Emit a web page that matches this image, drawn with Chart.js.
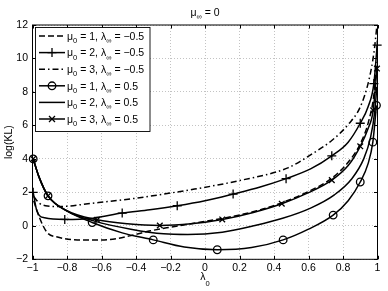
<!DOCTYPE html>
<html>
<head>
<meta charset="utf-8">
<script src="https://cdn.jsdelivr.net/npm/chart.js@4.4.1/dist/chart.umd.min.js"></script>
<style>
  html, body { margin: 0; padding: 0; background: #fff; }
  #wrap { width: 388px; height: 291px; }
</style>
</head>
<body>
<div id="wrap"><canvas id="myChart" width="388" height="291"></canvas></div>
<script>
const FONT = '"Liberation Sans", Arial, sans-serif';

const xTicks = [-1, -0.8, -0.6, -0.4, -0.2, 0, 0.2, 0.4, 0.6, 0.8, 1];
const xTickLabels = ["−1", "−0.8", "−0.6", "−0.4", "−0.2", "0", "0.2", "0.4", "0.6", "0.8", "1"];
const yTicks = [-2, 0, 2, 4, 6, 8, 10, 12];
const yTickLabels = ["−2", "0", "2", "4", "6", "8", "10", "12"];

const muValues = ["1", "2", "3", "1", "2", "3"];
const lambdaValues = ["−0.5", "−0.5", "−0.5", "0.5", "0.5", "0.5"];

// mu0 = 1, lambda_inf = -0.5 (dashed)
const mu1NegX = [-0.993, -0.96, -0.915, -0.85, -0.74, -0.6, -0.5, -0.413, -0.316, -0.2, -0.05, 0.1, 0.3, 0.45, 0.6, 0.735, 0.83, 0.9, 0.95, 0.98, 0.996];
const mu1NegY = [1.5, 0.5, -0.4, -0.68, -0.84, -0.84, -0.74, -0.54, -0.3, -0.08, 0.18, 0.44, 0.9, 1.4, 2.05, 2.85, 3.8, 4.9, 6.3, 7.9, 9.8];

// mu0 = 2, lambda_inf = -0.5 (plus)
const mu2NegX = [-0.996, -0.975, -0.93, -0.813, -0.65, -0.48, -0.32, -0.161, 0.0, 0.163, 0.32, 0.47, 0.612, 0.735, 0.83, 0.9, 0.945, 0.979, 0.998];
const mu2NegY = [2.0, 0.9, 0.48, 0.38, 0.46, 0.76, 0.96, 1.2, 1.5, 1.9, 2.32, 2.82, 3.4, 4.18, 5.0, 6.13, 7.1, 8.5, 10.8];
const mu2NegMarkX = [-0.996, -0.813, -0.48, -0.161, 0.163, 0.47, 0.735, 0.9, 0.979, 0.998];
const mu2NegMarkY = [2.0, 0.38, 0.76, 1.2, 1.9, 2.82, 4.18, 6.13, 8.5, 10.8];

// mu0 = 3, lambda_inf = -0.5 (dash-dot)
const mu3NegX = [-0.993, -0.96, -0.925, -0.848, -0.654, -0.4, -0.1, 0.194, 0.484, 0.612, 0.735, 0.834, 0.9, 0.95, 0.98, 0.995];
const mu3NegY = [1.75, 1.35, 1.2, 1.15, 1.35, 1.65, 2.13, 2.69, 3.48, 4.24, 5.1, 6.1, 7.1, 8.7, 10.4, 11.8];

// mu0 = 1, lambda_inf = 0.5 (circles)
const mu1PosX = [-0.996, -0.963, -0.91, -0.8, -0.654, -0.48, -0.3, -0.12, 0.071, 0.27, 0.453, 0.6, 0.743, 0.83, 0.9, 0.945, 0.973, 0.994];
const mu1PosY = [4.0, 2.94, 1.79, 0.9, 0.2, -0.42, -0.84, -1.27, -1.43, -1.3, -0.84, -0.2, 0.64, 1.5, 2.62, 3.7, 5.0, 7.2];
const mu1PosMarkX = [-0.996, -0.91, -0.654, -0.3, 0.071, 0.453, 0.743, 0.9, 0.973, 0.994];
const mu1PosMarkY = [4.0, 1.79, 0.2, -0.84, -1.43, -0.84, 0.64, 2.62, 5.0, 7.2];

// mu0 = 2, lambda_inf = 0.5 (solid)
const mu2PosX = [-0.996, -0.963, -0.91, -0.8, -0.64, -0.43, -0.24, -0.1, 0.1, 0.29, 0.45, 0.612, 0.75, 0.85, 0.92, 0.96, 0.985, 0.996];
const mu2PosY = [4.0, 2.94, 1.79, 0.88, 0.28, -0.2, -0.48, -0.52, -0.38, 0.02, 0.45, 1.06, 1.85, 2.8, 4.0, 5.3, 6.9, 8.3];

// mu0 = 3, lambda_inf = 0.5 (x)
const mu3PosX = [-0.996, -0.963, -0.91, -0.8, -0.625, -0.45, -0.262, -0.08, 0.1, 0.28, 0.445, 0.6, 0.735, 0.83, 0.9, 0.945, 0.975, 0.997];
const mu3PosY = [4.0, 2.94, 1.79, 0.9, 0.36, 0.12, 0.02, 0.12, 0.38, 0.8, 1.32, 1.98, 2.73, 3.6, 4.75, 5.8, 6.9, 9.4];
const mu3PosMarkX = [-0.996, -0.91, -0.625, -0.262, 0.1, 0.445, 0.735, 0.9, 0.975, 0.997];
const mu3PosMarkY = [4.0, 1.79, 0.36, 0.02, 0.38, 1.32, 2.73, 4.75, 6.9, 9.4];

const pts = (xs, ys) => xs.map((v, i) => ({ x: v, y: ys[i] }));

const series = [
  { line: pts(mu1NegX, mu1NegY), marks: null, dash: [6, 3], marker: null },
  { line: pts(mu2NegX, mu2NegY), marks: pts(mu2NegMarkX, mu2NegMarkY), dash: [], marker: "cross" },
  { line: pts(mu3NegX, mu3NegY), marks: null, dash: [6, 3, 1.5, 3], marker: null },
  { line: pts(mu1PosX, mu1PosY), marks: pts(mu1PosMarkX, mu1PosMarkY), dash: [], marker: "circle" },
  { line: pts(mu2PosX, mu2PosY), marks: null, dash: [], marker: null },
  { line: pts(mu3PosX, mu3PosY), marks: pts(mu3PosMarkX, mu3PosMarkY), dash: [], marker: "crossRot" },
];

const markerRadius = { cross: 4.5, circle: 3.8, crossRot: 4 };

const datasets = [];
series.forEach(s => {
  datasets.push({
    data: s.line,
    showLine: true,
    borderColor: "#000",
    borderWidth: 1.5,
    borderDash: s.dash,
    pointRadius: 0,
    cubicInterpolationMode: "monotone",
    fill: false,
  });
});
series.forEach(s => {
  if (!s.marks) return;
  datasets.push({
    data: s.marks,
    showLine: false,
    pointStyle: s.marker,
    pointRadius: markerRadius[s.marker],
    pointBorderColor: "#000",
    pointBackgroundColor: "rgba(0,0,0,0)",
    pointBorderWidth: 1.3,
    clip: 8,
  });
});

// draws text with subscripts: parts = [[text, isSub], ...]
function richWidth(ctx, parts, size) {
  let w = 0;
  parts.forEach(([t, sub]) => {
    ctx.font = (sub ? size * 0.72 : size) + "px " + FONT;
    w += ctx.measureText(t).width;
  });
  return w;
}
function drawRich(ctx, parts, x, y, size, subDrop) {
  ctx.textBaseline = "alphabetic";
  ctx.textAlign = "left";
  parts.forEach(([t, sub]) => {
    ctx.font = (sub ? size * 0.72 : size) + "px " + FONT;
    ctx.fillText(t, x, sub ? y + subDrop : y);
    x += ctx.measureText(t).width;
  });
}

function drawMarker(ctx, style, r, x, y) {
  ctx.beginPath();
  if (style === "circle") {
    ctx.arc(x, y, r, 0, Math.PI * 2);
  } else if (style === "cross") {
    ctx.moveTo(x - r, y); ctx.lineTo(x + r, y);
    ctx.moveTo(x, y - r); ctx.lineTo(x, y + r);
  } else if (style === "crossRot") {
    const d = r * 0.75;
    ctx.moveTo(x - d, y - d); ctx.lineTo(x + d, y + d);
    ctx.moveTo(x + d, y - d); ctx.lineTo(x - d, y + d);
  }
  ctx.stroke();
}

const decorations = {
  id: "decorations",
  afterDatasetsDraw(chart) {
    const { ctx, chartArea: a, scales } = chart;
    ctx.save();
    ctx.strokeStyle = "#000";
    ctx.lineWidth = 1;
    ctx.setLineDash([]);
    ctx.strokeRect(a.left, a.top, a.right - a.left, a.bottom - a.top);

    // inward tick marks on all four sides
    ctx.beginPath();
    xTicks.forEach(v => {
      const px = Math.round(scales.x.getPixelForValue(v)) + 0.5;
      ctx.moveTo(px, a.bottom); ctx.lineTo(px, a.bottom - 3.5);
      ctx.moveTo(px, a.top); ctx.lineTo(px, a.top + 3.5);
    });
    yTicks.forEach(v => {
      const py = Math.round(scales.y.getPixelForValue(v)) + 0.5;
      ctx.moveTo(a.left, py); ctx.lineTo(a.left + 3.5, py);
      ctx.moveTo(a.right, py); ctx.lineTo(a.right - 3.5, py);
    });
    ctx.stroke();

    // legend box
    const bx = 35.5, by = 27.5, bw = 114.5, bh = 104;
    ctx.fillStyle = "#fff";
    ctx.fillRect(bx, by, bw, bh);
    ctx.lineWidth = 0.9;
    ctx.strokeRect(bx, by, bw, bh);
    series.forEach((s, i) => {
      const cy = 36 + i * 16.6;
      ctx.lineWidth = 1.5;
      ctx.setLineDash(s.dash);
      ctx.beginPath();
      ctx.moveTo(39, cy); ctx.lineTo(65, cy);
      ctx.stroke();
      ctx.setLineDash([]);
      if (s.marker) {
        ctx.lineWidth = 1.3;
        drawMarker(ctx, s.marker, markerRadius[s.marker], 52, cy);
      }
      ctx.fillStyle = "#000";
      drawRich(ctx, [["μ", 0], ["0", 1], [" = " + muValues[i] + ", λ", 0], ["∞", 1], [" = " + lambdaValues[i], 0]], 67, cy + 3.8, 10.5, 3.2);
    });
    ctx.restore();
  },
  afterDraw(chart) {
    const { ctx, chartArea: a } = chart;
    ctx.save();
    ctx.fillStyle = "#000";
    const cx = (a.left + a.right) / 2;

    const title = [["μ", 0], ["∞", 1], [" = 0", 0]];
    drawRich(ctx, title, cx - richWidth(ctx, title, 10.5) / 2, 15.5, 10.5, 3.5);

    const xl = [["λ", 0], ["0", 1]];
    drawRich(ctx, xl, cx - richWidth(ctx, xl, 10.5) / 2, 280, 10.5, 6);

    ctx.translate(12, (a.top + a.bottom) / 2);
    ctx.rotate(-Math.PI / 2);
    ctx.font = "10.5px " + FONT;
    ctx.textAlign = "center";
    ctx.textBaseline = "alphabetic";
    ctx.fillText("log(KL)", 0, 0);
    ctx.restore();
  },
};

const ctx = document.getElementById("myChart");

new Chart(ctx, {
  type: "scatter",
  data: { datasets },
  plugins: [decorations],
  options: {
    responsive: false,
    animation: false,
    devicePixelRatio: 1,
    events: [],
    layout: { padding: { top: 25, right: 10.5, left: 0, bottom: 0 } },
    plugins: {
      legend: { display: false },
      title: { display: false },
      tooltip: { enabled: false },
    },
    scales: {
      x: {
        type: "linear",
        min: -1,
        max: 1,
        afterBuildTicks: s => { s.ticks = xTicks.map(v => ({ value: v })); },
        afterFit: s => { s.height = 31.7; },
        ticks: {
          callback: (v, i) => xTickLabels[i],
          font: { family: FONT, size: 10.5 },
          color: "#000",
          padding: 3,
          maxRotation: 0,
          autoSkip: false,
        },
        grid: { color: "#b4b4b4", lineWidth: 0.8, drawTicks: false },
        border: { display: false, dash: [1, 2] },
      },
      y: {
        type: "linear",
        min: -2,
        max: 12,
        afterBuildTicks: s => { s.ticks = yTicks.map(v => ({ value: v })); },
        afterFit: s => { s.width = 32.5; },
        ticks: {
          callback: (v, i) => yTickLabels[i],
          font: { family: FONT, size: 10.5 },
          color: "#000",
          padding: 4.5,
          autoSkip: false,
        },
        grid: { color: "#b4b4b4", lineWidth: 0.8, drawTicks: false },
        border: { display: false, dash: [1, 2] },
      },
    },
  },
});
</script>
</body>
</html>
